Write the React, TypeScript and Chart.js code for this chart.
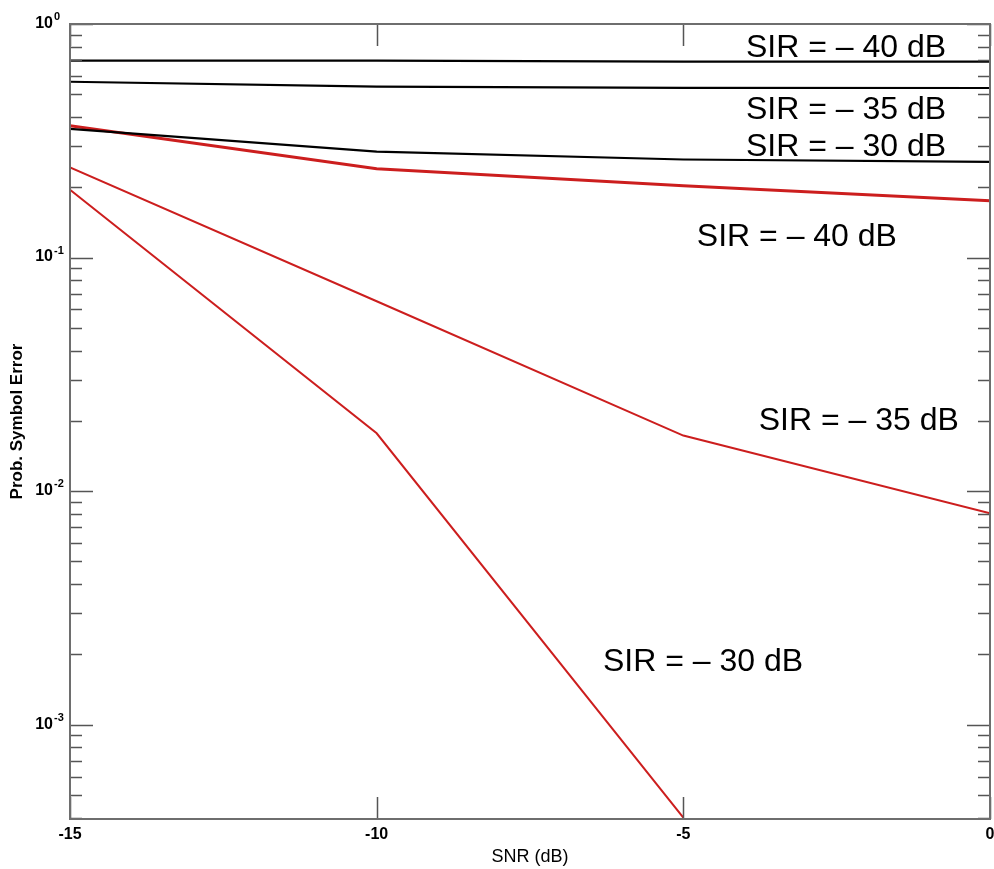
import React, { useEffect, useRef } from 'react';
import { Chart, registerables } from 'chart.js';

Chart.register(...registerables);

const FAMILY = '"Liberation Sans", Arial, Helvetica, sans-serif';

// Data
const snrDb = [-15, -10, -5, 0];
const blackSir40 = [0.697, 0.697, 0.69, 0.69];
const blackSir35 = [0.566, 0.539, 0.533, 0.532];
const blackSir30 = [0.356, 0.284, 0.263, 0.257];
const redSir40 = [0.367, 0.24, 0.203, 0.175];
const redSir35 = [0.243, 0.065, 0.0173, 0.00804];
const redSir30 = [0.195, 0.0177, 0.0004];

// Axis ticks
const xTickValues = [-15, -10, -5, 0];
const yDecadeExponents = [0, -1, -2, -3];
const yMin = 3.95e-4;
const yMax = 1;

// Curve annotations (data coordinates)
const labelTexts = [
  'SIR = – 40 dB',
  'SIR = – 35 dB',
  'SIR = – 30 dB',
  'SIR = – 40 dB',
  'SIR = – 35 dB',
  'SIR = – 30 dB',
];
const labelX = [-3.98, -3.98, -3.98, -4.78, -3.77, -6.31];
const labelY = [0.724, 0.393, 0.273, 0.1125, 0.01819, 0.001694];

const toPoints = (xs: number[], ys: number[]) => ys.map((y, i) => ({ x: xs[i], y }));

const framePlugin = {
  id: 'frame',
  afterDraw(chart: any) {
    const { ctx, chartArea: a, scales } = chart;
    const xs = scales.x;
    const ys = scales.y;
    ctx.save();

    // inside tick marks
    ctx.strokeStyle = '#555';
    ctx.lineWidth = 1.5;
    const minE = Math.floor(Math.log10(yMin));
    for (let e = minE; e <= 0; e++) {
      for (let m = 1; m <= 9; m++) {
        const v = m * Math.pow(10, e);
        if (v < yMin || v > yMax) continue;
        const py = Math.round(ys.getPixelForValue(v)) + 0.5;
        const len = m === 1 ? 23 : 12;
        ctx.beginPath();
        ctx.moveTo(a.left, py);
        ctx.lineTo(a.left + len, py);
        ctx.moveTo(a.right, py);
        ctx.lineTo(a.right - len, py);
        ctx.stroke();
      }
    }
    xTickValues.forEach((v) => {
      const px = Math.round(xs.getPixelForValue(v)) + 0.5;
      ctx.beginPath();
      ctx.moveTo(px, a.top);
      ctx.lineTo(px, a.top + 22);
      ctx.moveTo(px, a.bottom);
      ctx.lineTo(px, a.bottom - 22);
      ctx.stroke();
    });

    // frame
    ctx.strokeStyle = '#6e6e6e';
    ctx.lineWidth = 2;
    ctx.strokeRect(a.left, a.top, a.right - a.left, a.bottom - a.top);

    // y tick labels 10^n
    ctx.fillStyle = '#000';
    yDecadeExponents.forEach((e) => {
      const py = ys.getPixelForValue(Math.pow(10, e));
      ctx.font = `bold 16px ${FAMILY}`;
      ctx.textAlign = 'right';
      ctx.textBaseline = 'middle';
      ctx.fillText('10', a.left - 17, py - 0.5);
      ctx.font = `bold 11px ${FAMILY}`;
      ctx.textAlign = 'left';
      ctx.textBaseline = 'alphabetic';
      ctx.fillText(String(e), a.left - 16, py - 4);
    });

    // curve annotations
    ctx.font = `32px ${FAMILY}`;
    ctx.textAlign = 'left';
    ctx.textBaseline = 'alphabetic';
    labelTexts.forEach((t, i) => {
      ctx.fillText(t, xs.getPixelForValue(labelX[i]), ys.getPixelForValue(labelY[i]));
    });

    ctx.restore();
  },
};

export default function App() {
  const ref = useRef<HTMLCanvasElement | null>(null);

  useEffect(() => {
    document.body.style.margin = '0';
    const canvas = ref.current;
    if (!canvas) return;
    const RED = '#cc1e1e';
    const chart = new Chart(canvas, {
      type: 'line',
      data: {
        datasets: [
          { label: 'SIR -40 (black)', data: toPoints(snrDb, blackSir40), borderColor: '#000', borderWidth: 2.2 },
          { label: 'SIR -35 (black)', data: toPoints(snrDb, blackSir35), borderColor: '#000', borderWidth: 2.2 },
          { label: 'SIR -30 (black)', data: toPoints(snrDb, blackSir30), borderColor: '#000', borderWidth: 2.2 },
          { label: 'SIR -40 (red)', data: toPoints(snrDb, redSir40), borderColor: RED, borderWidth: 3 },
          { label: 'SIR -35 (red)', data: toPoints(snrDb, redSir35), borderColor: RED, borderWidth: 2 },
          { label: 'SIR -30 (red)', data: toPoints(snrDb, redSir30), borderColor: RED, borderWidth: 2 },
        ] as any,
      },
      options: {
        animation: false,
        responsive: false,
        events: [],
        layout: { padding: { top: 24, right: 0, left: 0, bottom: 0 } },
        elements: { point: { radius: 0 }, line: { tension: 0, fill: false } },
        plugins: { legend: { display: false }, tooltip: { enabled: false } },
        scales: {
          x: {
            type: 'linear',
            min: -15,
            max: 0,
            afterBuildTicks: (s: any) => {
              s.ticks = xTickValues.map((v) => ({ value: v }));
            },
            afterFit: (s: any) => {
              s.height = 50;
              s.paddingRight = 4;
              s.paddingLeft = 0;
            },
            ticks: {
              color: '#000',
              padding: -2,
              maxRotation: 0,
              font: { family: FAMILY, size: 16, weight: 'bold' },
              callback: (v: any) => String(v),
            },
            grid: { display: false },
            border: { display: false },
            title: {
              display: true,
              text: 'SNR (dB)',
              color: '#000',
              font: { family: FAMILY, size: 18, lineHeight: 1 },
              padding: { top: 0, bottom: 3 },
            },
          },
          y: {
            type: 'logarithmic',
            min: yMin,
            max: yMax,
            afterFit: (s: any) => {
              s.width = 70;
            },
            ticks: { display: false },
            grid: { display: false },
            border: { display: false },
            title: {
              display: true,
              text: 'Prob. Symbol Error',
              color: '#000',
              font: { family: FAMILY, size: 17, weight: 'bold', lineHeight: 1 },
              padding: { top: 8.5, bottom: 0 },
            },
          },
        },
      } as any,
      plugins: [framePlugin],
    });
    return () => chart.destroy();
  }, []);

  return (
    <div style={{ width: 994, height: 869 }}>
      <canvas ref={ref} width={994} height={869} style={{ display: 'block' }} />
    </div>
  );
}
